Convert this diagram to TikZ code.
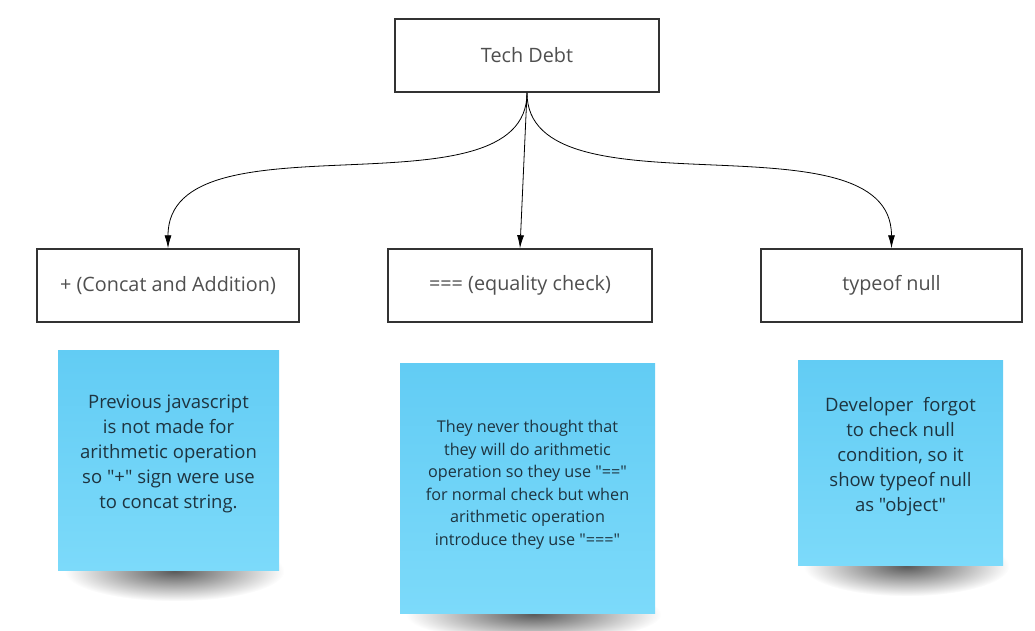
\documentclass[tikz,border=0pt]{standalone}
\usepackage{fontspec}
\setmainfont{Open Sans}[Ligatures=TeXOff]
\usetikzlibrary{arrows.meta,backgrounds}
\definecolor{boxline}{HTML}{333333}
\definecolor{boxtext}{HTML}{4F4F4F}
\definecolor{notetop}{RGB}{98,204,244}
\definecolor{notebottom}{RGB}{124,218,250}
\definecolor{notetext}{HTML}{1E3440}
\begin{document}
\begin{tikzpicture}[x=1pt,y=-1pt,
  debtbox/.style={draw=boxline,line width=1.5pt,fill=white,minimum height=73pt,inner sep=0pt,text=boxtext,font=\fontsize{19.8}{23}\selectfont},
  sticky/.style={top color=notetop,bottom color=notebottom,inner sep=0pt,align=center,text=notetext},
  shadowblur/.style={inner color=black!65,outer color=white},
  link/.style={line width=0.8pt,-{Latex[length=13pt,width=7pt]}}]
\useasboundingbox (0,0) rectangle (1035,630);
\node[debtbox,minimum width=264pt] (debt) at (527,55.5) {Tech Debt};
\node[debtbox,minimum width=262pt] (concat) at (168,285.5) {+ (Concat and Addition)};
\node[debtbox,minimum width=264pt] (equality) at (520,285.5) {=== (equality check)};
\node[debtbox,minimum width=261pt] (typenull) at (891.5,285.5) {typeof null};
\draw[link] (debt.south) .. controls +(0,128) and +(0,-139) .. (concat.north);
\draw[link] (debt.south) -- (equality.north);
\draw[link] (debt.south) .. controls +(0,128) and +(0,-139) .. (typenull.north);
\node[sticky,minimum width=221pt,minimum height=220pt,font=\fontsize{18.5}{25}\selectfont] (concatnote) at (168.5,460)
  {Previous javascript\\is not made for\\arithmetic operation\\so "+" sign were use\\to concat string.\\[-9pt]};
\node[sticky,minimum width=255pt,minimum height=250pt,font=\fontsize{16.2}{22.5}\selectfont] (equalitynote) at (527.5,488)
  {They never thought that\\they will do arithmetic\\operation so they use "=="\\for normal check but when\\arithmetic operation\\introduce they use "==="\\[-12pt]};
\node[sticky,minimum width=205pt,minimum height=205pt,font=\fontsize{18.5}{25}\selectfont] (typenullnote) at (900.5,462.5)
  {Developer\ \ forgot\\to check null\\condition, so it\\show typeof null\\as "object"\\[-8pt]};
\begin{scope}[on background layer]
\shade[shadowblur] ([xshift=6pt,yshift=-1pt]concatnote.south) ellipse [x radius=110pt,y radius=30pt];
\shade[shadowblur] ([xshift=6pt,yshift=-1pt]equalitynote.south) ellipse [x radius=128pt,y radius=28pt];
\shade[shadowblur] ([xshift=6pt,yshift=-1pt]typenullnote.south) ellipse [x radius=103pt,y radius=30pt];
\end{scope}
\end{tikzpicture}
\end{document}
